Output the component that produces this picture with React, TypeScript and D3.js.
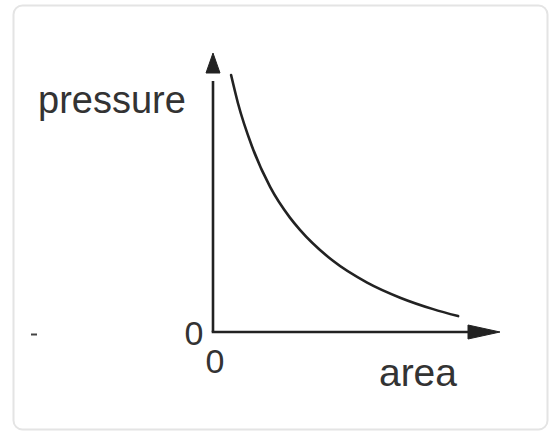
import React from "react";
import * as d3 from "d3";

// Curve samples: area vs. pressure (inverse relationship)
const areaValues = [0.63, 0.87, 1.36, 1.99, 2.68, 3.03, 4.18, 5.37, 6.52, 7.67, 8.54];
const pressureValues = [9.21, 8.2, 6.65, 5.2, 4.1, 3.66, 2.55, 1.77, 1.23, 0.82, 0.57];

const xLabel = "area";
const yLabel = "pressure";
const originLabels = ["0", "0"];

const W = 550;
const H = 432;

export default function App() {
  const x = d3.scaleLinear().domain([0, 10]).range([213, 500]);
  const y = d3.scaleLinear().domain([0, 10]).range([332, 53]);

  const pts: [number, number][] = areaValues.map((a, i) => [a, pressureValues[i]]);
  const line = d3
    .line<[number, number]>()
    .x((d) => x(d[0]))
    .y((d) => y(d[1]))
    .curve(d3.curveMonotoneX);

  const x0 = x(0);
  const y0 = y(0);
  const xEnd = x(10);
  const yEnd = y(10);
  const head = 32; // arrowhead length
  const half = 7; // arrowhead half-width
  const ink = "#222";
  const font = "'Liberation Sans', Arial, sans-serif";

  return (
    <svg
      width={W}
      height={H}
      style={{ position: "absolute", left: 0, top: 0, display: "block", background: "#fff" }}
    >
      <rect x={13.5} y={5.5} width={534} height={424} rx={9} fill="#fff" stroke="#e4e4e4" strokeWidth={2} />

      {/* axes */}
      <line x1={x0} y1={y0} x2={x0} y2={yEnd + head - 4} stroke={ink} strokeWidth={2.6} />
      <line x1={x0 - 1.3} y1={y0} x2={xEnd - head + 4} y2={y0} stroke={ink} strokeWidth={2.6} />
      <path
        d={`M${x0},${yEnd} L${x0 - half},${yEnd + head - 12} L${x0 + half},${yEnd + head - 12} Z`}
        fill={ink}
        stroke={ink}
        strokeWidth={1}
        strokeLinejoin="round"
      />
      <path
        d={`M${xEnd},${y0} L${xEnd - head},${y0 - half} L${xEnd - head},${y0 + half} Z`}
        fill={ink}
        stroke={ink}
        strokeWidth={1}
        strokeLinejoin="round"
      />

      {/* curve */}
      <path d={line(pts) ?? ""} fill="none" stroke={ink} strokeWidth={2.6} strokeLinecap="round" />

      {/* labels */}
      <text x={38} y={113} fontFamily={font} fontSize={38} fill="#333">
        {yLabel}
      </text>
      <text x={457} y={386} fontFamily={font} fontSize={39} fill="#333" textAnchor="end">
        {xLabel}
      </text>
      <text x={194} y={345} fontFamily={font} fontSize={34} fill="#333" textAnchor="middle">
        {originLabels[0]}
      </text>
      <text x={215} y={373} fontFamily={font} fontSize={34} fill="#333" textAnchor="middle">
        {originLabels[1]}
      </text>

      {/* small tick mark at left */}
      <line x1={31} y1={334.5} x2={37} y2={334.5} stroke="#444" strokeWidth={2} />
    </svg>
  );
}
